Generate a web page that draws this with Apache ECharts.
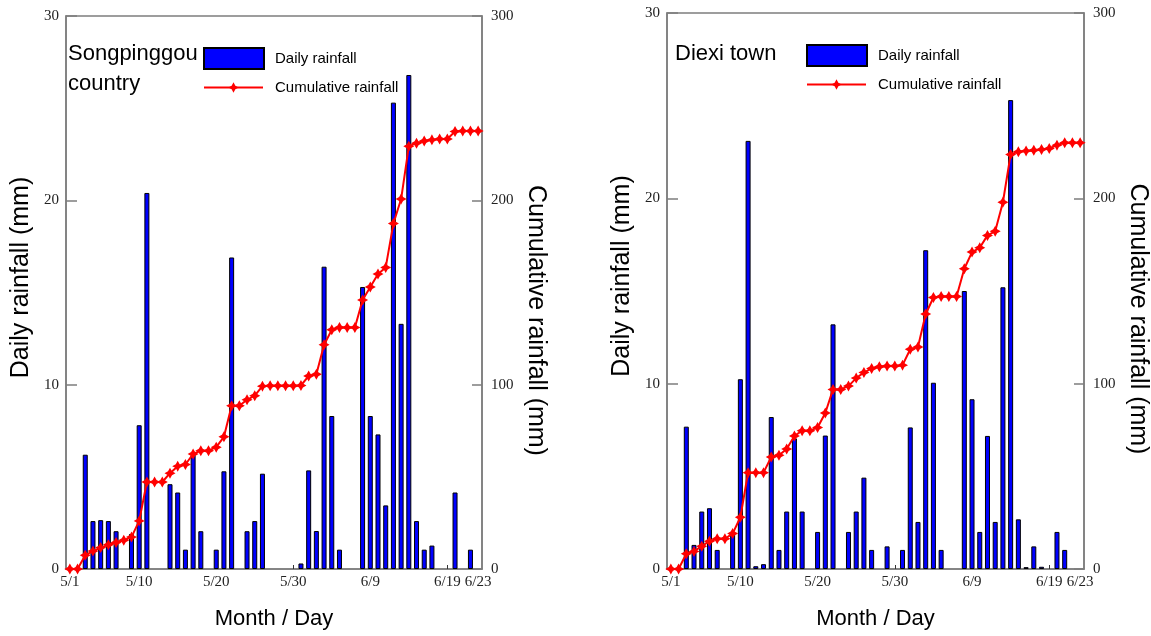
<!DOCTYPE html>
<html>
<head>
<meta charset="utf-8">
<script src="https://cdn.jsdelivr.net/npm/echarts@6/dist/echarts.min.js"></script>
<style>html,body{margin:0;padding:0;background:#fff}#c{width:1151px;height:636px}</style>
</head>
<body>
<div id="c"></div>
<script>
// ---- data ----
const days = ['5/1','5/2','5/3','5/4','5/5','5/6','5/7','5/8','5/9','5/10',
  '5/11','5/12','5/13','5/14','5/15','5/16','5/17','5/18','5/19','5/20',
  '5/21','5/22','5/23','5/24','5/25','5/26','5/27','5/28','5/29','5/30','5/31',
  '6/1','6/2','6/3','6/4','6/5','6/6','6/7','6/8','6/9','6/10',
  '6/11','6/12','6/13','6/14','6/15','6/16','6/17','6/18','6/19','6/20',
  '6/21','6/22','6/23'];
const tickLabels = ['5/1','5/10','5/20','5/30','6/9','6/19','6/23'];
const tickMarks = ['5/10','5/20','5/30','6/9','6/19'];

const panelTitles = ['Songpinggou\ncountry', 'Diexi town'];
const barName = 'Daily rainfall';
const lineName = 'Cumulative rainfall';

const songDaily = [0,0,6.2,2.6,2.65,2.6,2.05,0,1.9,7.8,
  20.4,0,0,4.6,4.15,1.05,6.2,2.05,0,1.05,
  5.3,16.9,0,2.05,2.6,5.17,0,0,0,0,
  0.3,5.35,2.06,16.4,8.3,1.05,0,0,15.3,8.3,
  7.3,3.45,25.3,13.3,26.8,2.6,1.05,1.27,0,0,
  4.15,0,1.05,0];
const songCumulative = [0,0,7.5,9.7,11.6,13.1,14.4,15.6,17.3,26.1,
  47.2,47.2,47.2,52,55.8,56.7,62.4,64.2,64.2,66.1,
  71.7,88.6,88.6,91.8,94,99.2,99.4,99.4,99.4,99.4,
  99.6,104.7,105.6,121.6,129.8,131,131,131,145.9,153,
  160,163.6,187.4,200.7,229.3,231,232.2,232.8,233.3,233.3,
  237.3,237.6,237.6,237.6];

const diexiDaily = [0,0,7.68,1.3,3.1,3.28,1.03,0,2.0,10.24,
  23.1,0.15,0.26,8.2,1.03,3.1,7.05,3.1,0,2.0,
  7.2,13.2,0,2.0,3.1,4.93,1.03,0,1.22,0,
  1.03,7.64,2.54,17.2,10.05,1.03,0,0,15.0,9.16,
  2.0,7.18,2.54,15.2,25.3,2.68,0.1,1.22,0.12,0,
  2.0,1.03,0,0];
const diexiCumulative = [0,0,8.2,9.5,12.3,15,16.3,16.3,19.1,27.9,
  52,52,52,60.4,61.4,64.8,71.8,74.6,74.6,76.4,
  84.2,96.9,96.9,98.7,103,106,108.2,109.1,109.5,109.5,
  110,118.6,119.8,137.6,146.5,147,147,147,162,171,
  173.3,180,182.2,197.9,223.7,225.1,225.6,226,226.3,226.9,
  228.7,230,230,230];

// ---- styling ----
const axisGray = '#7d7d7d';
const serif = '"Liberation Serif", "DejaVu Serif", serif';
const sans = '"Liberation Sans", Arial, sans-serif';
const star = 'path://M0,-10 L3.6,-3.6 L10,0 L3.6,3.6 L0,10 L-3.6,3.6 L-10,0 L-3.6,-3.6 Z';

const panels = [
  {grid:{left:66, top:16, width:416, height:553}, title:{left:68, top:39}, legendLeft:203, legendTop:47, lineLegendTop:80, daily:songDaily, cum:songCumulative},
  {grid:{left:667, top:13, width:420, height:556}, title:{left:675, top:39}, legendLeft:806, legendTop:44, lineLegendTop:77, daily:diexiDaily, cum:diexiCumulative}
];

const option = {
  animation:false,
  backgroundColor:'#fff',
  title:[], legend:[], grid:[], xAxis:[], yAxis:[], series:[]
};

panels.forEach((p, i) => {
  option.grid.push(Object.assign({show:true, borderColor:axisGray, borderWidth:1.5, backgroundColor:'transparent'}, p.grid));
  option.title.push({text:panelTitles[i], left:p.title.left, top:p.title.top, padding:0,
    textStyle:{fontFamily:sans, fontSize:22, fontWeight:'normal', color:'#000', lineHeight:30}});
  option.legend.push({data:[{name:barName, icon:'rect'}], left:p.legendLeft, top:p.legendTop, padding:0, itemWidth:60, itemHeight:21,
    selectedMode:false, textStyle:{fontFamily:sans, fontSize:15, color:'#000', padding:[0,0,0,6]}});
  option.legend.push({data:[lineName], left:p.legendLeft, top:p.lineLegendTop, padding:0, itemWidth:59, itemHeight:13,
    selectedMode:false, textStyle:{fontFamily:sans, fontSize:15, color:'#000', padding:[0,0,0,7]}});
  option.xAxis.push({
    type:'category', gridIndex:i, data:days, boundaryGap:true,
    name:'Month / Day', nameLocation:'middle', nameGap:39,
    nameTextStyle:{fontFamily:sans, fontSize:22, color:'#000'},
    axisLine:{lineStyle:{color:axisGray, width:1.5}},
    axisTick:{show:true, inside:true, length:4, alignWithLabel:true,
      interval:(idx, v) => tickMarks.includes(v), lineStyle:{color:'#333'}},
    axisLabel:{interval:(idx, v) => tickLabels.includes(v), fontFamily:serif, fontSize:15, color:'#222', margin:6}
  });
  option.yAxis.push({
    type:'value', gridIndex:i, position:'left', min:0, max:30, interval:10,
    name:'Daily rainfall (mm)', nameLocation:'middle', nameGap:32,
    nameTextStyle:{fontFamily:sans, fontSize:25, color:'#000', padding:[0,0,0,30]},
    axisLine:{show:true, lineStyle:{color:axisGray, width:1.5}},
    axisTick:{show:true, inside:true, length:11, lineStyle:{color:axisGray, width:1.5}},
    splitLine:{show:false},
    axisLabel:{fontFamily:serif, fontSize:15, color:'#222', margin:7}
  });
  option.yAxis.push({
    type:'value', gridIndex:i, position:'right', min:0, max:300, interval:100,
    name:'Cumulative rainfall (mm)', nameLocation:'middle', nameGap:41, nameRotate:-90,
    nameTextStyle:{fontFamily:sans, fontSize:25, color:'#000', padding:[0,0,0,56]},
    axisLine:{show:true, lineStyle:{color:axisGray, width:1.5}},
    axisTick:{show:true, inside:true, length:10, lineStyle:{color:axisGray, width:1.5}},
    splitLine:{show:false},
    axisLabel:{fontFamily:serif, fontSize:15, color:'#222', margin:9}
  });
  option.series.push({
    name:barName, type:'bar', xAxisIndex:i, yAxisIndex:i*2,
    data:p.daily.map(v => (v === 0 ? null : v)), barWidth:5,
    itemStyle:{color:'#0000ff', borderColor:'#000', borderWidth:1}, z:2
  });
  option.series.push({
    name:lineName, type:'line', xAxisIndex:i, yAxisIndex:i*2+1, data:p.cum,
    symbol:star, symbolSize:11, showAllSymbol:true, color:'#ff0000',
    itemStyle:{color:'#ff0000'}, lineStyle:{color:'#ff0000', width:2}, z:3
  });
});

const chart = echarts.init(document.getElementById('c'), null, {renderer:'canvas'});
chart.setOption(option);
</script>
</body>
</html>
